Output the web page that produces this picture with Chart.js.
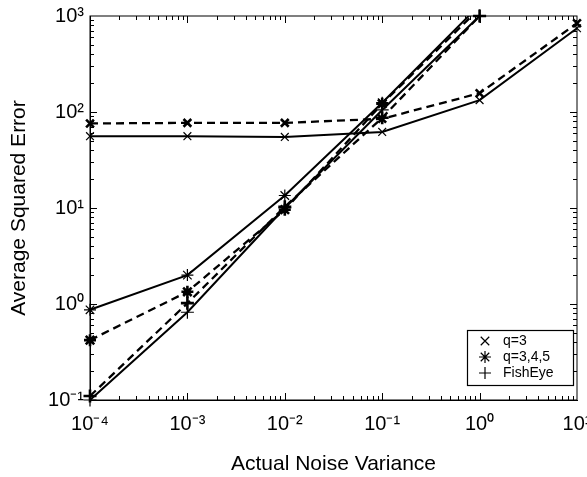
<!DOCTYPE html>
<html><head><meta charset="utf-8">
<style>html,body{margin:0;padding:0;background:#fff;overflow:hidden;}</style>
<script src="https://cdn.jsdelivr.net/npm/chart.js@4/dist/chart.umd.min.js"></script>
</head><body>
<canvas id="c" width="587" height="477"></canvas>
<script>
// ---- data ----
const noiseVariance = [1e-4, 1e-3, 1e-2, 1e-1, 1, 10];
const q3Solid       = [56, 56, 55, 62, 133, 745];
const q3Dashed      = [76, 77, 77, 85, 157, 840];
const q345Solid     = [0.87, 2.0, 13.5, 125, 1300, null];
const q345Dashed    = [0.42, 1.34, 9.6, 122, 1200, null];
const fishSolid     = [0.1, 0.82, 10, 105, 1000, null];
const fishDashed    = [0.11, 1.02, 10.3, 87, 1000, null];
const xTickValues = [1e-4, 1e-3, 1e-2, 1e-1, 1, 10];
const yTickValues = [0.1, 1, 10, 100, 1000];
const legendLabels = ['q=3', 'q=3,4,5', 'FishEye'];
const legendStyles = ['crossRot', 'star', 'cross'];

const FONT = '"Liberation Sans", Arial, Helvetica, sans-serif';
const SUP = {'-':'\u207B','0':'\u2070','1':'\u00B9','2':'\u00B2','3':'\u00B3','4':'\u2074','5':'\u2075','6':'\u2076','7':'\u2077','8':'\u2078','9':'\u2079'};
function powLabel(v){ const e = Math.round(Math.log10(v)); return '10' + String(e).split('').map(c => SUP[c]).join(''); }

function ds(label, data, style, dashed, radius, clip) {
  return {
    label,
    data: noiseVariance.map((x, i) => ({x, y: data[i]})),
    borderColor: '#000', backgroundColor: '#000',
    borderWidth: dashed ? 2.3 : 2,
    borderDash: dashed ? [8, 5] : [],
    pointStyle: style, pointRadius: radius,
    pointBorderWidth: dashed ? 2.6 : 1.2,
    pointBorderColor: '#000', pointBackgroundColor: '#000',
    tension: 0, fill: false, clip
  };
}
const starClip = {left: 10, right: 10, top: 0, bottom: 10};

const frame = {
  id: 'frame',
  afterDatasetsDraw(chart) {
    const {ctx, chartArea: a, scales: {x, y}} = chart;
    ctx.save();
    ctx.strokeStyle = '#000';
    ctx.lineWidth = 1;
    ctx.strokeRect(a.left, a.top, a.right - a.left, a.bottom - a.top);
    ctx.beginPath();
    for (let k = -4; k <= 0; k++) for (let m = 1; m <= 9; m++) {
      const v = m * Math.pow(10, k);
      const px = Math.round(x.getPixelForValue(v)) + 0.5;
      const len = m === 1 ? 7 : 4;
      ctx.moveTo(px, a.bottom); ctx.lineTo(px, a.bottom - len);
      ctx.moveTo(px, a.top); ctx.lineTo(px, a.top + len);
    }
    for (let k = -1; k <= 2; k++) for (let m = 1; m <= 9; m++) {
      const v = m * Math.pow(10, k);
      const py = Math.round(y.getPixelForValue(v)) + 0.5;
      const len = m === 1 ? 7 : 4;
      ctx.moveTo(a.left, py); ctx.lineTo(a.left + len, py);
      ctx.moveTo(a.right, py); ctx.lineTo(a.right - len, py);
    }
    ctx.stroke();
    ctx.restore();
  },
  afterDraw(chart) {
    const {ctx, chartArea: a} = chart;
    const w = 106, h = 55;
    const left = a.right - 4 - w, top = a.bottom - 15 - h;
    ctx.save();
    ctx.fillStyle = '#fff';
    ctx.fillRect(left, top, w, h);
    ctx.strokeStyle = '#000'; ctx.lineWidth = 1.2;
    ctx.strokeRect(left + 0.5, top + 0.5, w, h);
    ctx.font = '14px ' + FONT;
    ctx.fillStyle = '#000';
    ctx.textBaseline = 'middle';
    legendLabels.forEach((lab, i) => {
      const cy = top + 11 + i * 16;
      Chart.helpers.drawPoint(ctx, {pointStyle: legendStyles[i], radius: 6, borderWidth: 1.4, rotation: 0}, left + 18, cy);
      ctx.fillText(lab, left + 36, cy);
    });
    ctx.restore();
  }
};

new Chart(document.getElementById('c'), {
  type: 'line',
  data: {
    datasets: [
      ds('q=3', q3Solid, 'crossRot', false, 5.5, false),
      ds('q=3 (dashed)', q3Dashed, 'crossRot', true, 5.5, false),
      ds('q=3,4,5', q345Solid, 'star', false, 6, starClip),
      ds('q=3,4,5 (dashed)', q345Dashed, 'star', true, 6, starClip),
      ds('FishEye', fishSolid, 'cross', false, 6.5, false),
      ds('FishEye (dashed)', fishDashed, 'cross', true, 6.5, false)
    ]
  },
  options: {
    responsive: false, animation: false, devicePixelRatio: 1, events: [],
    layout: {padding: {top: 16, right: 10, left: 0, bottom: 0}},
    plugins: {legend: {display: false}, tooltip: {enabled: false}},
    scales: {
      x: {
        type: 'logarithmic', min: 1e-4, max: 10,
        grid: {display: false, drawTicks: false},
        border: {display: true, color: '#000', width: 1},
        afterBuildTicks: s => { s.ticks = xTickValues.map(v => ({value: v})); },
        ticks: {color: '#000', font: {family: FONT, size: 20}, padding: 12, maxRotation: 0, autoSkip: false,
                callback: v => powLabel(v)},
        title: {display: true, text: 'Actual Noise Variance', color: '#000', font: {family: FONT, size: 21}, padding: {top: 0, bottom: 0}},
        afterFit: s => { s.height = 77; s.paddingLeft = 0; s.paddingRight = 0; }
      },
      y: {
        type: 'logarithmic', min: 0.1, max: 1000,
        grid: {display: false, drawTicks: false},
        border: {display: true, color: '#000', width: 1},
        afterBuildTicks: s => { s.ticks = yTickValues.map(v => ({value: v})); },
        ticks: {color: '#000', font: {family: FONT, size: 20}, padding: 6, autoSkip: false,
                callback: v => powLabel(v)},
        title: {display: true, text: 'Average Squared Error', color: '#000', font: {family: FONT, size: 21}, padding: {top: 7, bottom: 0}},
        afterFit: s => { s.width = 90; s.paddingTop = 0; s.paddingBottom = 0; }
      }
    }
  },
  plugins: [frame]
});
</script>
</body></html>
